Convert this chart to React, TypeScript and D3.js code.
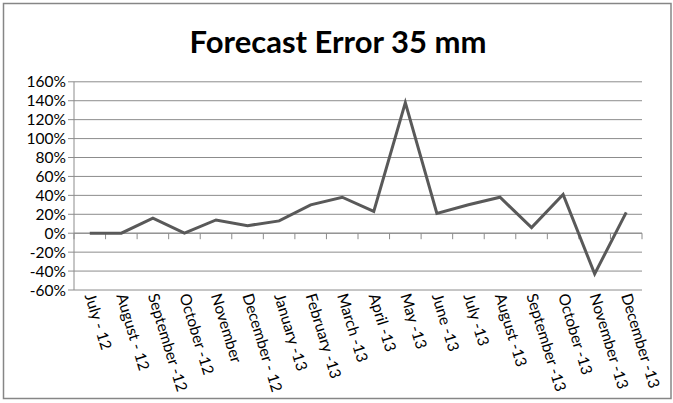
import React from "react";
import * as d3 from "d3";

const categories = [
  "July - 12", "August - 12", "September -12", "October -12", "November",
  "December - 12", "January -13", "February -13", "March -13", "April -13",
  "May -13", "June -13", "July -13", "August -13", "September -13",
  "October -13", "November -13", "December -13",
];
const values = [0, 0, 16, 0, 14, 8, 13, 30, 38, 23, 138, 21, 30, 38, 6, 41, -43, 22];
const yTicks = [-60, -40, -20, 0, 20, 40, 60, 80, 100, 120, 140, 160];
const title = "Forecast Error 35 mm";

const W = 673;
const H = 403;
const left = 74;
const right = 642;
const top = 81.8;
const bottom = 290;

export default function App() {
  const x = d3.scaleBand<string>().domain(categories).range([left, right]).padding(0);
  const y = d3.scaleLinear().domain([-60, 160]).range([bottom, top]);
  const line = d3
    .line<number>()
    .x((_, i) => (x(categories[i]) as number) + x.bandwidth() / 2)
    .y((d) => y(d));
  const font = "Lato, 'Open Sans', sans-serif";
  const grid = "#8c8c8c";
  const boundaries = categories.map((c) => x(c) as number).concat([right]);

  return (
    <svg
      width={W}
      height={H}
      style={{ position: "absolute", left: 0, top: 0, background: "#fff" }}
    >
      <rect x={0} y={0} width={W} height={H} fill="#fff" />
      <rect x={3.5} y={3.5} width={667.5} height={395} fill="none" stroke="#868686" strokeWidth={1.5} />
      <text
        x={338}
        y={53}
        textAnchor="middle"
        fontFamily={font}
        fontWeight="bold"
        fontSize={31}
        fill="#000"
      >
        {title}
      </text>
      {yTicks.map((t) => (
        <g key={t}>
          <line x1={left - 6} x2={right} y1={y(t)} y2={y(t)} stroke={grid} strokeWidth={1} />
          <text
            x={left - 8}
            y={y(t)}
            dy="0.36em"
            textAnchor="end"
            fontFamily={font}
            fontSize={15.5}
            fill="#000"
          >
            {t + "%"}
          </text>
        </g>
      ))}
      <line x1={left} x2={left} y1={top} y2={bottom} stroke={grid} strokeWidth={1} />
      <line x1={left} x2={right} y1={y(0)} y2={y(0)} stroke={grid} strokeWidth={1} />
      {boundaries.map((b, i) => (
        <line key={i} x1={b} x2={b} y1={y(0)} y2={y(0) + 6} stroke={grid} strokeWidth={1} />
      ))}
      <path
        d={line(values) as string}
        fill="none"
        stroke="#595959"
        strokeWidth={3}
        strokeLinejoin="miter"
      />
      {categories.map((c) => {
        const cx = (x(c) as number) + x.bandwidth() / 2;
        const cy = bottom + 4;
        return (
          <text
            key={c}
            x={cx}
            y={cy}
            dy="0.35em"
            textAnchor="start"
            transform={`rotate(73 ${cx} ${cy})`}
            fontFamily={font}
            fontSize={15.5}
            fill="#000"
          >
            {c}
          </text>
        );
      })}
    </svg>
  );
}
